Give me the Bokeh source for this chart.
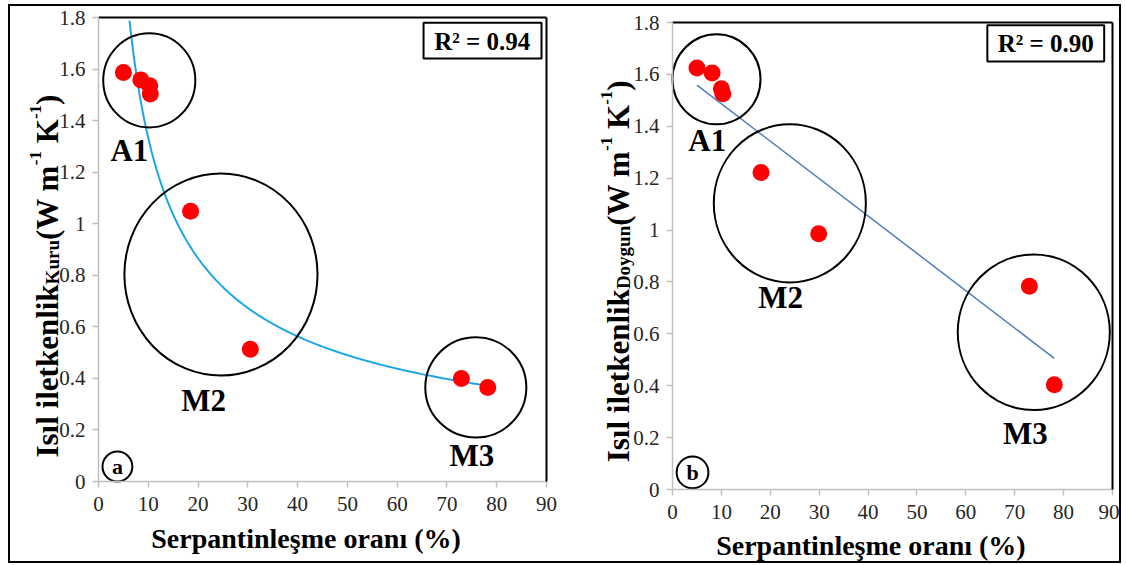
import math
import numpy as np
from bokeh.plotting import figure
from bokeh.models import Label, FixedTicker, Range1d, LinearAxis
from bokeh.layouts import row
from bokeh.embed import file_html
from bokeh.resources import INLINE

# ---------------- data ----------------
serp_a = [5.0, 8.5, 10.3, 10.4, 18.5, 30.5, 72.9, 78.2]
k_dry = [1.587, 1.558, 1.535, 1.503, 1.048, 0.513, 0.400, 0.365]
serp_b = [5.0, 8.1, 10.0, 10.3, 18.1, 29.9, 73.0, 78.1]
k_sat = [1.625, 1.605, 1.545, 1.525, 1.222, 0.986, 0.783, 0.404]

x_ticks = [0, 10, 20, 30, 40, 50, 60, 70, 80, 90]
y_ticks = [0, 0.2, 0.4, 0.6, 0.8, 1.0, 1.2, 1.4, 1.6, 1.8]
y_tick_labels = ["0", "0.2", "0.4", "0.6", "0.8", "1", "1.2", "1.4", "1.6", "1.8"]

r2_a = "R² = 0.94"
r2_b = "R² = 0.90"
x_title = "Serpantinleşme  oranı (%)"
group_labels = ["A1", "M2", "M3"]
panel_a = "a"
panel_b = "b"

FONT = "Liberation Serif"
X_MAX, Y_MAX = 90, 1.8

# Times/Liberation Serif Bold advance widths (per 1000 em)
TNR_BOLD = {'I': 389, 's': 389, 'ı': 278, 'l': 278, ' ': 250, 'i': 278, 'e': 444,
            't': 333, 'k': 556, 'n': 556, '(': 333, ')': 333, 'W': 1000, 'm': 833,
            'K': 778, 'u': 556, 'r': 444, 'D': 722, 'o': 500, 'y': 500, 'g': 500,
            '-': 333, '1': 500}


def tw(s, size):
    return sum(TNR_BOLD.get(c, 500) for c in s) / 1000.0 * size


def make_fig(width, height, fl, fr, ft, fb):
    """fl/fr/ft/fb: pixel positions of the data box (0..90 x 0..1.8) inside the figure."""
    sx = (fr - fl) / X_MAX
    sy = (fb - ft) / Y_MAX
    xr = Range1d(-fl / sx, X_MAX + (width - fr) / sx)
    yr = Range1d(-(height - fb) / sy, Y_MAX + ft / sy)
    p = figure(width=width, height=height, x_range=xr, y_range=yr, title=None,
               output_backend="svg", toolbar_location=None, min_border=0)
    p.xgrid.visible = False
    p.ygrid.visible = False
    p.outline_line_color = None
    p.background_fill_color = "white"
    p.border_fill_color = "white"
    for ax in (p.xaxis[0], p.yaxis[0]):
        ax.fixed_location = 0
        ax.axis_line_color = "#BFBFBF"
        ax.axis_line_width = 1.5
        ax.major_tick_line_color = "#BFBFBF"
        ax.major_tick_line_width = 1.5
        ax.major_tick_in = 0
        ax.major_tick_out = 6
        ax.minor_tick_line_color = None
        ax.major_label_text_font = FONT
        ax.major_label_text_font_size = "21px"
        ax.major_label_text_color = "#262626"
    p.xaxis.major_label_standoff = 9
    p.yaxis.major_label_standoff = 7
    p.xaxis.bounds = (0, X_MAX)
    p.yaxis.bounds = (0, Y_MAX)
    p.xaxis.ticker = FixedTicker(ticks=x_ticks)
    p.yaxis.ticker = FixedTicker(ticks=y_ticks)
    p.yaxis.major_label_overrides = {t: l for t, l in zip(y_ticks, y_tick_labels)}
    # black top and right edges of the plot area
    for loc, side, bnds in ((Y_MAX, "above", (0, X_MAX)), (X_MAX, "right", (0, Y_MAX))):
        edge = LinearAxis(fixed_location=loc, bounds=bnds, ticker=FixedTicker(ticks=[]),
                          axis_line_color="black", axis_line_width=2,
                          major_tick_line_color=None, minor_tick_line_color=None,
                          major_label_text_font_size="0px", major_tick_out=0,
                          major_label_standoff=0)
        p.add_layout(edge, side)
    return p, sx, sy


def y_title(p, x_base, y0, parts, sx, sy):
    pos = 0.0
    for text, size, shift in parts:
        stripped = text.lstrip(" ")
        pos += tw(text[:len(text) - len(stripped)], size)
        p.add_layout(Label(x=x_base + shift / sx, y=y0 + pos / sy, text=stripped,
                           angle=math.pi / 2, text_font=FONT, text_font_size=f"{size}px",
                           text_font_style="bold", text_align="left",
                           text_baseline="alphabetic", text_color="black"))
        pos += tw(stripped, size)


def bold_label(p, x, y, text, size, align="center", baseline="middle"):
    p.add_layout(Label(x=x, y=y, text=text, text_font=FONT, text_font_size=f"{size}px",
                       text_font_style="bold", text_align=align, text_baseline=baseline,
                       text_color="black"))


# ---------------- panel (a) ----------------
pa, sxa, sya = make_fig(555, 555, 88, 536, 11, 475)

xa = np.array(serp_a)
ya = np.array(k_dry)
b_pow, lna = np.polyfit(np.log(xa), np.log(ya), 1)
xs_a = np.linspace(xa.min(), xa.max(), 300)
ys_a = np.exp(lna) * xs_a ** b_pow
keep = ys_a <= Y_MAX
pa.line(xs_a[keep], ys_a[keep], line_color="#1CA6E5", line_width=2)

pa.ellipse(x=[10.2, 24.6, 75.8, 3.8], y=[1.556, 0.803, 0.365, 0.058],
           width=[18.5, 38.8, 20.3, 6.0], height=[0.365, 0.784, 0.389, 0.116],
           fill_color=None, line_color="black", line_width=2)
pa.scatter(serp_a, k_dry, size=17, fill_color="#FF0000", line_color=None)

pa.quad(left=[65.3], right=[89.0], bottom=[1.641], top=[1.780],
        fill_color="white", line_color="black", line_width=2)
bold_label(pa, 77.1, 1.708, r2_a, 25)

bold_label(pa, 6.2, 1.284, group_labels[0], 31)
bold_label(pa, 21.1, 0.314, group_labels[1], 31)
bold_label(pa, 75.0, 0.100, group_labels[2], 31)
bold_label(pa, 3.8, 0.058, panel_a, 22)

bold_label(pa, 42.4, -0.221, x_title, 28)
y_title(pa, -10.2, 0.093,
        [("Isıl iletkenlik", 31, 0), ("Kuru", 19, 5), ("(W m", 31, 0), ("-1", 17, -12),
         (" K", 31, 0), ("-1", 17, -12), (")", 31, 0)], sxa, sya)

# ---------------- panel (b) ----------------
pb, sxb, syb = make_fig(554, 555, 107, 547, 16, 483)

xb = np.array(serp_b)
yb = np.array(k_sat)
m_lin, c_lin = np.polyfit(xb, yb, 1)
xs_b = np.array([xb.min(), xb.max()])
pb.line(xs_b, m_lin * xs_b + c_lin, line_color="#4A7EBB", line_width=1.5)

pb.ellipse(x=[9.0, 24.0, 73.9, 4.1], y=[1.581, 1.103, 0.606, 0.066],
           width=[18.0, 31.1, 31.1, 6.5], height=[0.347, 0.61, 0.60, 0.123],
           fill_color=None, line_color="black", line_width=2)
pb.scatter(serp_b, k_sat, size=17, fill_color="#FF0000", line_color=None)

pb.quad(left=[64.4], right=[88.3], bottom=[1.650], top=[1.789],
        fill_color="white", line_color="black", line_width=2)
bold_label(pb, 76.35, 1.718, r2_b, 25)

bold_label(pb, 7.1, 1.345, group_labels[0], 31)
bold_label(pb, 22.1, 0.740, group_labels[1], 31)
bold_label(pb, 72.2, 0.217, group_labels[2], 31)
bold_label(pb, 4.1, 0.066, panel_b, 22)

bold_label(pb, 41.3, -0.214, x_title, 28)
y_title(pb, -11.0, 0.105,
        [("Isıl iletkenlik", 31, 0), ("Doygun", 19, 5), ("(W m", 31, 0), ("-1", 17, -12),
         (" K", 31, 0), ("-1", 17, -12), (")", 31, 0)], sxb, syb)

layout = row(pa, pb, styles={"border": "2px solid black", "margin-left": "8px",
                             "margin-top": "4px"})

open("out.html", "w").write(file_html(layout, INLINE))
